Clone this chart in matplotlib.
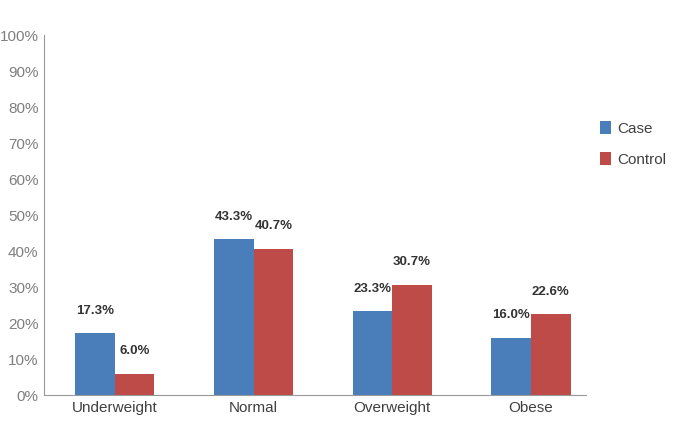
import numpy as np
import matplotlib.pyplot as plt
from matplotlib import font_manager

categories = ["Underweight", "Normal", "Overweight", "Obese"]
case_vals = [17.3, 43.3, 23.3, 16.0]
control_vals = [6.0, 40.7, 30.7, 22.6]
yticks = list(range(0, 101, 10))

names = {f.name for f in font_manager.fontManager.ttflist}
wanted = ["Liberation Sans Narrow", "DejaVu Sans Condensed", "Liberation Sans", "DejaVu Sans"]
narrow = [n for n in wanted if n in names]
plt.rcParams['font.family'] = narrow
tsize = 12 if narrow[0] != "Liberation Sans" else 11

fig = plt.figure(figsize=(6.78, 4.4), dpi=100)
ax = fig.add_axes([0.065, 0.102, 0.80, 0.818])

x = np.arange(len(categories))
w = 0.285
blue = "#4a7ebb"
red = "#be4b48"
b1 = ax.bar(x - w/2, case_vals, w, color=blue, label="Case")
b2 = ax.bar(x + w/2, control_vals, w, color=red, label="Control")

for bars, vals in ((b1, case_vals), (b2, control_vals)):
    for b, v in zip(bars, vals):
        ax.text(b.get_x() + b.get_width()/2, v + 4.5, "%.1f%%" % v, ha="center", va="bottom",
                fontsize=9.5, fontweight="bold", color="#333333")

ax.set_ylim(0, 100)
ax.set_xlim(-0.51, 3.4)
ax.set_yticks(yticks)
ax.set_yticklabels(["%d%%" % t for t in yticks], fontsize=tsize, color="#7f7f7f")
ax.set_xticks(x)
ax.set_xticklabels(categories, fontsize=tsize, color="#404040")
ax.tick_params(length=0, pad=4)
for s in ("top", "right"):
    ax.spines[s].set_visible(False)
for s in ("left", "bottom"):
    ax.spines[s].set_color("#999999")

ax.legend(loc="upper left", bbox_to_anchor=(1.0, 0.8), frameon=False, fontsize=tsize,
          handlelength=0.7, handleheight=0.9, handletextpad=0.4, labelspacing=1.1,
          labelcolor="#404040")

fig.savefig("out.png", dpi=100)
